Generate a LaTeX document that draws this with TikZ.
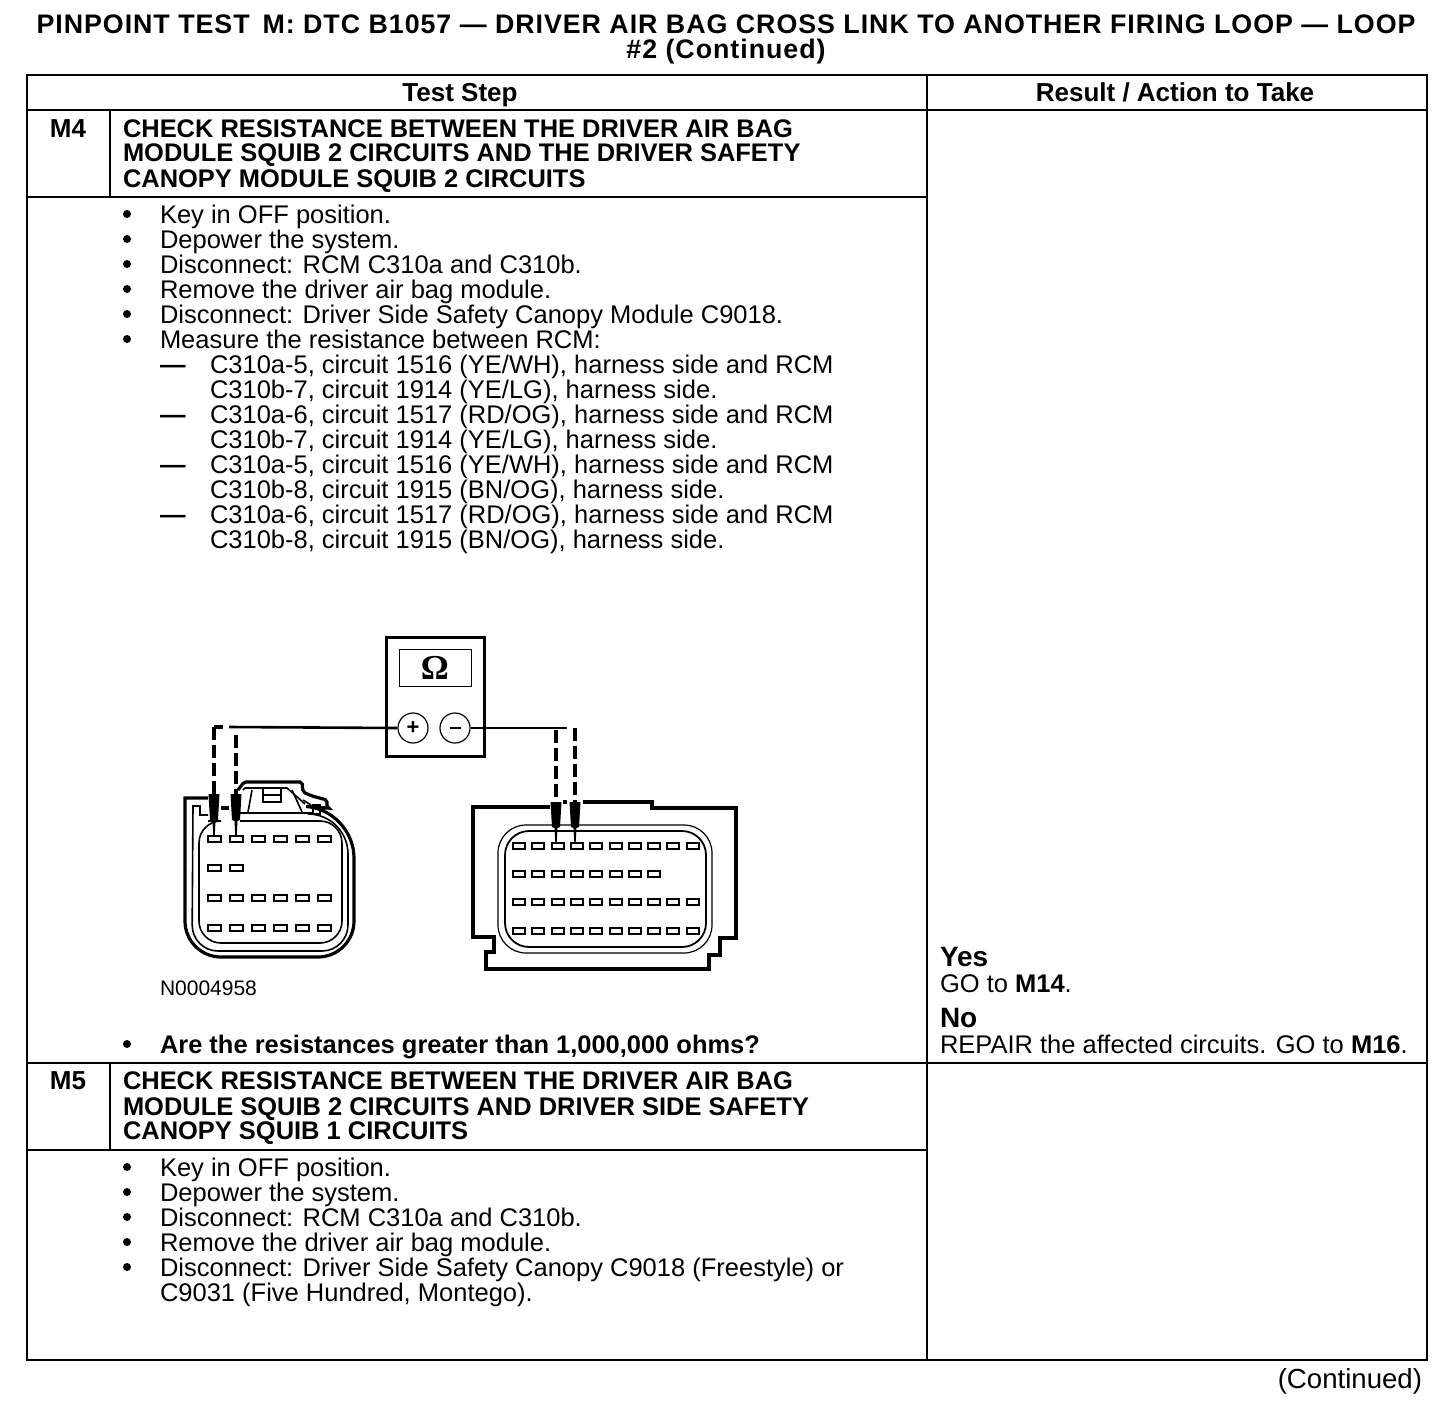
\documentclass[tikz,border=0pt]{standalone}
\usepackage{fontspec}
\setmainfont{Liberation Sans}
\newfontfamily\omegafont{Liberation Serif}
\tikzset{x=0.5pt,y=-0.5pt,
 txt/.style={anchor=base west,inner sep=0pt,outer sep=0pt,font=\fontsize{12.75}{12.75}\selectfont},
 btxt/.style={txt,font=\fontsize{12.73}{12.73}\selectfont\bfseries},
 ctxt/.style={btxt,anchor=base,font=\fontsize{13}{13}\selectfont\bfseries},
 ttl/.style={ctxt,font=\fontsize{13.4}{13.4}\selectfont\bfseries\addfontfeature{LetterSpace=3.6}},
 big/.style={txt,font=\fontsize{14}{14}\selectfont\bfseries},
 bul/.style={circle,fill=black,inner sep=0pt,outer sep=0pt,minimum size=4pt},
 dsh/.style={txt,font=\fontsize{12.75}{12.75}\selectfont\bfseries},
 rule/.style={line width=1.05pt},
 outer/.style={line width=1.25pt},
 thick1/.style={line width=1.6pt,line join=miter},
 thin1/.style={line width=0.8pt},
 thin2/.style={line width=0.6pt},
 pin/.style={draw,line width=1pt,minimum width=6pt,minimum height=2.8pt,inner sep=0pt,outer sep=0pt},
 pinb/.style={pin,minimum width=6.5pt},
 probe/.style={fill=black,draw=none},
 wire/.style={line width=1.3pt},
 dashw/.style={line width=2pt,dash pattern=on 6.5pt off 2.5pt}}
\newcommand{\tl}[4]{\node[txt] (#1) at (#2,#3) {#4};}
\newcommand{\dl}[3]{\node[dsh] (#1) at (160,#2) {—}; \node[txt] (#1t) at (210,#2) {#3};}
\newcommand{\bl}[3]{\node[bul] (#1) at (127,#2-9) {}; \node[txt] (#1t) at (160,#2) {#3};}
\begin{document}
\begin{tikzpicture}
\useasboundingbox (0,0) rectangle (1456,1408);
% title
\node[ttl] (title1) at (726,33) {PINPOINT TEST\, M: DTC B1057 — DRIVER AIR BAG CROSS LINK TO ANOTHER FIRING LOOP — LOOP};
\node[ttl] (title2) at (726,58) {\#2 (Continued)};
% table
\draw[outer] (27,75) rectangle (1427,1360);
\draw[rule] (27,110) -- (1427,110);
\draw[rule] (927,75) -- (927,1360);
\draw[rule] (110,110) -- (110,197);
\draw[rule] (27,197) -- (927,197);
\draw[rule] (27,1063) -- (1427,1063);
\draw[rule] (110,1063) -- (110,1150);
\draw[rule] (27,1150) -- (927,1150);
\node[ctxt] (h1) at (460,101) {Test Step};
\node[ctxt] (h2) at (1175,101) {Result / Action to Take};
% M4
\node[ctxt] (m4) at (68,137) {M4};
\node[btxt] (m4a) at (123,137) {CHECK RESISTANCE BETWEEN THE DRIVER AIR BAG};
\node[btxt] (m4b) at (123,161) {MODULE SQUIB 2 CIRCUITS AND THE DRIVER SAFETY};
\node[btxt] (m4c) at (123,187) {CANOPY MODULE SQUIB 2 CIRCUITS};
\bl{a1}{223}{Key in OFF position.}
\bl{a2}{248}{Depower the system.}
\bl{a3}{273}{Disconnect: RCM C310a and C310b.}
\bl{a4}{298}{Remove the driver air bag module.}
\bl{a5}{323}{Disconnect: Driver Side Safety Canopy Module C9018.}
\bl{a6}{348}{Measure the resistance between RCM:}
\dl{d1}{373}{C310a-5, circuit 1516 (YE/WH), harness side and RCM}
\tl{d1b}{210}{398}{C310b-7, circuit 1914 (YE/LG), harness side.}
\dl{d2}{423}{C310a-6, circuit 1517 (RD/OG), harness side and RCM}
\tl{d2b}{210}{448}{C310b-7, circuit 1914 (YE/LG), harness side.}
\dl{d3}{473}{C310a-5, circuit 1516 (YE/WH), harness side and RCM}
\tl{d3b}{210}{498}{C310b-8, circuit 1915 (BN/OG), harness side.}
\dl{d4}{523}{C310a-6, circuit 1517 (RD/OG), harness side and RCM}
\tl{d4b}{210}{548}{C310b-8, circuit 1915 (BN/OG), harness side.}
\node[txt,font=\fontsize{10.5}{10.5}\selectfont] (fig) at (160,995) {N0004958};
\node[bul] (q) at (127,1044) {};
\node[btxt] (qt) at (160,1053) {Are the resistances greater than 1,000,000 ohms?};
% results
\node[big] (yes) at (940,966) {Yes};
\tl{yes1}{940}{992}{GO to \textbf{M14}.}
\node[big] (no) at (940,1027) {No};
\tl{no1}{940}{1053}{REPAIR the affected circuits. GO to \textbf{M16}.}
% M5
\node[ctxt] (m5) at (68,1089) {M5};
\node[btxt] (m5a) at (123,1089) {CHECK RESISTANCE BETWEEN THE DRIVER AIR BAG};
\node[btxt] (m5b) at (123,1115) {MODULE SQUIB 2 CIRCUITS AND DRIVER SIDE SAFETY};
\node[btxt] (m5c) at (123,1139) {CANOPY SQUIB 1 CIRCUITS};
\bl{b1}{1176}{Key in OFF position.}
\bl{b2}{1201}{Depower the system.}
\bl{b3}{1226}{Disconnect: RCM C310a and C310b.}
\bl{b4}{1251}{Remove the driver air bag module.}
\bl{b5}{1276}{Disconnect: Driver Side Safety Canopy C9018 (Freestyle) or}
\tl{b5b}{160}{1301}{C9031 (Five Hundred, Montego).}
\node[txt,anchor=base east,font=\fontsize{13.8}{13.8}\selectfont] (cont) at (1422,1388) {(Continued)};
% meter
\node[draw,line width=1.5pt,minimum width=49pt,minimum height=59.5pt,inner sep=0pt] (meter) at (435,696.5) {};
\node[draw,line width=0.5pt,minimum width=36pt,minimum height=18.5pt,inner sep=0pt,font=\omegafont\fontsize{17.5}{17.5}\selectfont\bfseries] (disp) at (435,667.5) {Ω};
\node[draw,circle,fill=white,line width=0.6pt,minimum size=15pt,inner sep=0pt,font=\fontsize{11}{11}\selectfont\bfseries] (plus) at (413,728) {+};
\node[draw,circle,fill=white,line width=0.6pt,minimum size=15pt,inner sep=0pt] (minus) at (455,728) {\rule[0pt]{5.5pt}{1pt}};
% wires
\coordinate (wl0) at (229,727);\coordinate (wl1) at (214,727);\coordinate (wlc) at (223,727);
\coordinate (wl2) at (236,735);
\coordinate (wr1) at (567,728);\coordinate (wr0) at (556,730);\coordinate (wr2) at (575,728);
\draw[wire] (plus.west) -- (wl0);
\draw[wire] (minus.east) -- (wr1);
\coordinate (pl1) at (214,794);\coordinate (pl2) at (236,794);
\coordinate (pr1) at (556,802);\coordinate (pr2) at (575,802);
% left connector
\draw[thick1] (208,798) -- (185,798) [rounded corners=18pt] -- (185,957) -- (354,957) [rounded corners=24pt] -- (354,810) [rounded corners=1pt] -- (327,808) -- (327,800) -- (312,796) -- (303,792) -- (302,782) -- (244,782) -- (238,790);
\draw[thin1] (208,815) -- (200,815) -- (200,806) -- (193,806) [rounded corners=13pt] -- (192,951) -- (348,951) [rounded corners=20pt] -- (348,814) [sharp corners] -- (320,814) -- (320,805) -- (313,805) -- (313,813) -- (240,813);
\draw[thin1,rounded corners=11pt] (208,821) -- (199,821) -- (199,943) -- (342,943) -- (342,821) -- (240,821);
\draw[thick1] (221,808) -- (229,808);
% latch
\draw[thin1] (243,790) -- (245,788) -- (287,788) -- (305,804);
\draw[thin1] (252,790) -- (248,812) (292,790) -- (302,812);
\draw[thin1] (263,788) -- (263,802) -- (281,802) -- (281,788) (263,795) -- (281,795);
\draw[thin1] (303,800) -- (311,805);
% left pins
\foreach \r in {839,898,928}{\foreach \c in {214.5,236.5,258.5,280.5,302.5,324.5}{\node[pinb] at (\c,\r) {};}}
\foreach \c in {214.5,236.5}{\node[pinb] at (\c,868) {};}
% right connector
\draw[thick1] (550,807) -- (473,807) -- (473,937) -- (494,937) -- (494,952) -- (486,952) -- (486,969) -- (709,969) -- (709,955) -- (720,955) -- (720,938) -- (736,938) -- (736,808) -- (652,808) -- (652,802) -- (583,802);
\draw[thick1] (563,802) -- (567,802);
\draw[thin2,rounded corners=14pt] (498,825) rectangle (712,953);
\draw[line width=0.9pt,rounded corners=12pt] (505,831) rectangle (706,947);
\foreach \r/\n in {846/10,874/8,902/10,931/10}{\foreach \i in {1,...,\n}{\node[pin] at ({519+(\i-1)*19.3},\r) {};}}
% probes
\foreach \x/\y/\n in {214/794/a,236/794/b}{\fill[probe] (\x-5.5,\y) -- (\x+5.5,\y) -- (\x+4,\y+26) -- (\x+1.5,\y+27) -- (\x+.7,\y+43) -- (\x-.7,\y+43) -- (\x-1.5,\y+27) -- (\x-4,\y+26) -- cycle;}
\foreach \x/\y/\n in {556/802/c,575/802/d}{\fill[probe] (\x-5.5,\y) -- (\x+5.5,\y) -- (\x+4,\y+25) -- (\x+1.5,\y+26) -- (\x+.7,\y+40) -- (\x-.7,\y+40) -- (\x-1.5,\y+26) -- (\x-4,\y+25) -- cycle;}
% dashed leads
\draw[dashw] (wl2) -- (pl2);
\draw[dashw,dash pattern=on 5pt off 0pt] (wlc) -- (wl1);
\draw[dashw] (wl1) -- (pl1);
\draw[dashw] (wr0) -- (pr1);
\draw[dashw] (wr2) -- (pr2);
\end{tikzpicture}
\end{document}
